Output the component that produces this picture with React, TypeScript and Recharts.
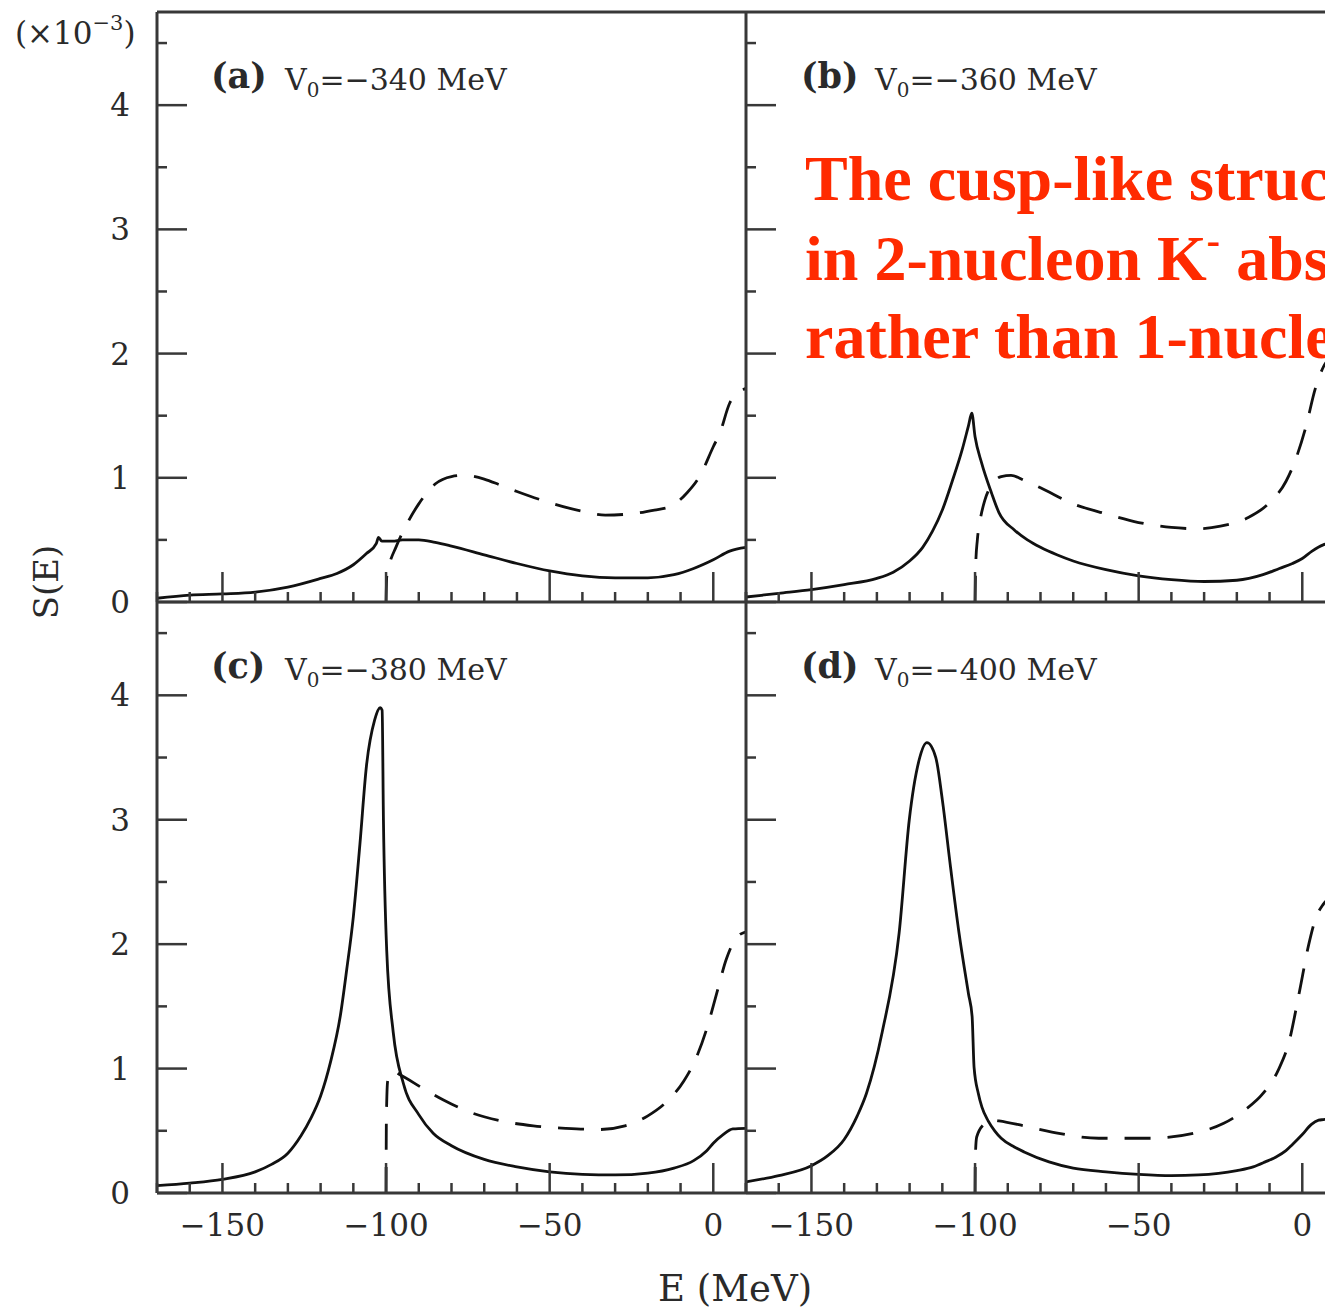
import React from "react";
import { LineChart, Line, XAxis, YAxis } from "recharts";

// axis ticks (MeV / 10^-3)
const xTicks = [-170, -160, -150, -140, -130, -120, -110, -100, -90, -80, -70, -60, -50, -40, -30, -20, -10, 0, 10];
const yTicks = [0, 0.5, 1, 1.5, 2, 2.5, 3, 3.5, 4, 4.5];
const xDomain: [number, number] = [-170, 10];
const yDomain: [number, number] = [0, 4.75];

const panelTags = ["(a)", "(b)", "(c)", "(d)"];
const potentials = ["−340", "−360", "−380", "−400"];

// [E (MeV), S(E) x10^-3]
const solidA: [number, number][] = [
  [-170, 0.03], [-160, 0.055], [-150, 0.065], [-140, 0.08], [-130, 0.12], [-120, 0.19],
  [-115, 0.23], [-110, 0.3], [-106, 0.39], [-103, 0.47], [-102.3, 0.52], [-101.3, 0.49],
  [-98, 0.49], [-95, 0.5], [-90, 0.5], [-85, 0.48], [-80, 0.45], [-70, 0.38], [-60, 0.31],
  [-50, 0.25], [-40, 0.21], [-30, 0.195], [-20, 0.195], [-12, 0.22], [-6, 0.27], [0, 0.34],
  [5, 0.41], [10, 0.44],
];
const dashA: [number, number][] = [
  [-100, 0], [-99.8, 0.2], [-99, 0.3], [-97, 0.44], [-94, 0.61], [-90, 0.79], [-85, 0.95],
  [-80, 1.01], [-76, 1.02], [-70, 0.99], [-65, 0.94], [-60, 0.89], [-50, 0.8], [-40, 0.73],
  [-33, 0.7], [-25, 0.71], [-18, 0.74], [-13, 0.77], [-8, 0.88], [-4, 1.02], [0, 1.25],
  [2, 1.36], [5, 1.6], [8.5, 1.7], [10, 1.72],
];
const solidB: [number, number][] = [
  [-170, 0.04], [-160, 0.07], [-150, 0.1], [-140, 0.14], [-130, 0.19], [-125, 0.24],
  [-120, 0.33], [-116, 0.44], [-113, 0.57], [-110, 0.74], [-107, 0.97], [-104, 1.22],
  [-102, 1.42], [-101, 1.52], [-100, 1.33], [-98, 1.12], [-95, 0.88], [-92.7, 0.72],
  [-88, 0.58], [-84, 0.5], [-80, 0.44], [-75, 0.38], [-70, 0.33], [-60, 0.26], [-50, 0.21],
  [-40, 0.18], [-30, 0.165], [-20, 0.175], [-12, 0.22], [-7, 0.27], [-3, 0.31], [0, 0.35],
  [3, 0.41], [6.4, 0.46], [10, 0.48],
];
const dashB: [number, number][] = [
  [-100, 0], [-99.8, 0.3], [-99.3, 0.5], [-98.5, 0.65], [-97, 0.82], [-95, 0.94],
  [-92, 1.01], [-89, 1.02], [-85, 0.98], [-80, 0.92], [-70, 0.79], [-60, 0.71], [-50, 0.64],
  [-40, 0.6], [-32, 0.59], [-25, 0.61], [-16.5, 0.68], [-10, 0.8], [-5, 0.97], [-2, 1.15],
  [1, 1.4], [4, 1.72], [6.4, 1.89], [10, 2.0],
];
const solidC: [number, number][] = [
  [-170, 0.06], [-160, 0.08], [-150, 0.11], [-140, 0.17], [-135, 0.23], [-130, 0.32],
  [-126, 0.46], [-123, 0.6], [-120, 0.78], [-117, 1.05], [-114, 1.42], [-112, 1.8],
  [-110, 2.22], [-108, 2.8], [-106, 3.43], [-103.5, 3.8], [-101.8, 3.9], [-101.2, 3.88],
  [-100.8, 3.0], [-99.8, 1.95], [-97.8, 1.29], [-94.7, 0.88], [-90, 0.63], [-85.6, 0.48],
  [-80, 0.38], [-70, 0.27], [-60, 0.21], [-50, 0.17], [-40, 0.15], [-30, 0.145], [-20, 0.16],
  [-12, 0.2], [-6, 0.26], [-2, 0.34], [0, 0.4], [3, 0.47], [6, 0.515], [10, 0.52],
];
const dashC: [number, number][] = [
  [-100, 0], [-99.9, 0.6], [-99.5, 0.9], [-98, 0.98], [-95.7, 0.95], [-88.7, 0.84],
  [-82.6, 0.75], [-74.4, 0.65], [-65, 0.58], [-55, 0.54], [-45, 0.52], [-35, 0.51],
  [-27, 0.54], [-20, 0.62], [-14, 0.74], [-9, 0.9], [-5, 1.1], [-2, 1.32], [1, 1.6],
  [4, 1.88], [7, 2.05], [10, 2.1],
];
const solidD: [number, number][] = [
  [-170, 0.09], [-160, 0.14], [-150, 0.22], [-145, 0.3], [-140, 0.43], [-136, 0.62],
  [-133.2, 0.8], [-128.4, 1.29], [-123.2, 2.09], [-120.1, 3.0], [-117.1, 3.48],
  [-114.7, 3.62], [-112, 3.5], [-110, 3.16], [-107.5, 2.62], [-104.9, 2.09], [-102, 1.6],
  [-100.9, 1.42], [-100.3, 1.01], [-99, 0.8], [-97.9, 0.69], [-96, 0.58], [-94, 0.5],
  [-92, 0.44], [-88, 0.37], [-85, 0.33], [-77.4, 0.25], [-70, 0.2], [-60, 0.17], [-50, 0.15],
  [-40, 0.14], [-31.7, 0.145], [-20, 0.18], [-15, 0.21], [-11.3, 0.25], [-8, 0.29],
  [-5, 0.34], [-3, 0.39], [0, 0.47], [2.7, 0.55], [5, 0.585], [6.4, 0.59], [10, 0.6],
];
const dashD: [number, number][] = [
  [-100, 0], [-99.9, 0.3], [-99.5, 0.45], [-97, 0.56], [-95.5, 0.59], [-92.7, 0.58],
  [-85, 0.54], [-76.5, 0.49], [-62.2, 0.44], [-47, 0.44], [-31.7, 0.49], [-24, 0.56],
  [-17.4, 0.67], [-12, 0.8], [-7.3, 0.99], [-4, 1.22], [-1, 1.6], [2, 2.0], [4, 2.2],
  [6.4, 2.32], [10, 2.4],
];

const FRAME = "#383838";
const INK = "#2a2a2a";
const TIMES = "'Liberation Serif', 'Times New Roman', serif";
const CM = "'DejaVu Serif', serif";

const toRows = (pts: [number, number][]) => pts.map(([e, s]) => ({ e, s }));
const fmt = (v: number) => (v < 0 ? `−${Math.abs(v)}` : `${v}`);

const XTick = (props: any) => {
  const { x, y, payload, showLabel } = props;
  const v = payload.value;
  const major = v % 50 === 0;
  return (
    <g>
      <line x1={x} x2={x} y1={y} y2={y - (major ? 30 : 10)} stroke={FRAME} strokeWidth={2.5} />
      {showLabel && major && (
        <text x={x} y={y + 43} textAnchor="middle" fontFamily={CM} fontSize={31} fill={INK}>
          {fmt(v)}
        </text>
      )}
    </g>
  );
};

const YTick = (props: any) => {
  const { x, y, payload, showLabel } = props;
  const v = payload.value;
  const major = Number.isInteger(v);
  return (
    <g>
      <line x1={x} x2={x + (major ? 30 : 10)} y1={y} y2={y} stroke={FRAME} strokeWidth={2.5} />
      {showLabel && major && (
        <text x={x - 27} y={y + 11} textAnchor="end" fontFamily={CM} fontSize={31} fill={INK}>
          {v}
        </text>
      )}
    </g>
  );
};

type PanelProps = {
  solid: [number, number][];
  dashed: [number, number][];
  left: number;
  top: number;
  isLeft: boolean;
  isBottom: boolean;
};

const Panel = ({ solid, dashed, left, top, isLeft, isBottom }: PanelProps) => {
  const width = isLeft ? 760 : 660;
  const height = isBottom ? 749 : 640;
  // axes take 1px each, so the plot box lands on x 157/746, y 12/602/1193
  const margin = {
    top: isBottom ? 42 : 11,
    bottom: isBottom ? 115 : 37,
    left: isLeft ? 156 : 45,
    right: isLeft ? 14 : 25,
  };
  return (
    <div style={{ position: "absolute", left, top }}>
      <LineChart width={width} height={height} margin={margin}>
        <XAxis
          xAxisId="b"
          dataKey="e"
          type="number"
          domain={xDomain}
          ticks={xTicks}
          interval={0}
          allowDataOverflow
          height={1}
          tickSize={0}
          tickMargin={0}
          tickLine={false}
          axisLine={{ stroke: FRAME, strokeWidth: 3 }}
          tick={(p: any) => <XTick {...p} showLabel={isBottom} />}
        />
        {!isBottom && (
          <XAxis
            xAxisId="t"
            orientation="top"
            dataKey="e"
            type="number"
            domain={xDomain}
            ticks={xTicks}
            allowDataOverflow
            height={1}
            tick={false}
            tickLine={false}
            axisLine={{ stroke: FRAME, strokeWidth: 3 }}
          />
        )}
        <YAxis
          yAxisId="l"
          type="number"
          domain={yDomain}
          ticks={yTicks}
          interval={0}
          allowDataOverflow
          width={1}
          tickSize={0}
          tickMargin={0}
          tickLine={false}
          axisLine={{ stroke: FRAME, strokeWidth: 3 }}
          tick={(p: any) => <YTick {...p} showLabel={isLeft} />}
        />
        <Line
          xAxisId="b"
          yAxisId="l"
          data={toRows(dashed)}
          dataKey="s"
          type="monotone"
          stroke="#111"
          strokeWidth={2.8}
          strokeDasharray="26 17"
          dot={false}
          activeDot={false}
          isAnimationActive={false}
        />
        <Line
          xAxisId="b"
          yAxisId="l"
          data={toRows(solid)}
          dataKey="s"
          type="monotone"
          stroke="#111"
          strokeWidth={2.8}
          dot={false}
          activeDot={false}
          isAnimationActive={false}
        />
      </LineChart>
    </div>
  );
};

const PanelTag = ({ x, y, i }: { x: number; y: number; i: number }) => (
  <g>
    <text x={x} y={y} fontFamily={CM} fontWeight="bold" fontSize={35} fill={INK}>
      {panelTags[i]}
    </text>
    <text x={x + 74} y={y + 2} fontFamily={CM} fontSize={30} fill={INK}>
      V
      <tspan fontSize={20} dy={7}>0</tspan>
      <tspan dy={-7}>{`=${potentials[i]} MeV`}</tspan>
    </text>
  </g>
);

const App = () => {
  return (
    <div
      style={{
        position: "absolute",
        left: 0,
        top: 0,
        width: 1325,
        height: 1309,
        overflow: "hidden",
        background: "#fff",
      }}
    >
      <Panel solid={solidA} dashed={dashA} left={0} top={0} isLeft isBottom={false} />
      <Panel solid={solidB} dashed={dashB} left={700} top={0} isLeft={false} isBottom={false} />
      <Panel solid={solidC} dashed={dashC} left={0} top={560} isLeft isBottom />
      <Panel solid={solidD} dashed={dashD} left={700} top={560} isLeft={false} isBottom />
      <svg
        width={1325}
        height={1309}
        style={{ position: "absolute", left: 0, top: 0, pointerEvents: "none" }}
      >
        <text x={15} y={44} fontFamily={CM} fontSize={31} fill={INK}>
          (×10
          <tspan fontSize={21} dy={-14}>−3</tspan>
          <tspan dy={14}>)</tspan>
        </text>
        <text
          x={46}
          y={582}
          transform="rotate(-90 46 582)"
          textAnchor="middle"
          dominantBaseline="central"
          fontFamily={CM}
          fontSize={34}
          fill={INK}
        >
          S(E)
        </text>
        <text x={735} y={1301} textAnchor="middle" fontFamily={CM} fontSize={37} fill={INK}>
          E (MeV)
        </text>
        <PanelTag x={211} y={88} i={0} />
        <PanelTag x={801} y={88} i={1} />
        <PanelTag x={211} y={678} i={2} />
        <PanelTag x={801} y={678} i={3} />
        <g fontFamily={TIMES} fontWeight="bold" fontSize={64} fill="#ff2a00">
          <text x={805} y={200}>The cusp-like structure</text>
          <text x={805} y={280}>
            in 2-nucleon K<tspan fontSize={40} dy={-26}>-</tspan>
            <tspan dy={26}> absorption</tspan>
          </text>
          <text x={805} y={358}>rather than 1-nucleon</text>
        </g>
      </svg>
    </div>
  );
};

export default App;
